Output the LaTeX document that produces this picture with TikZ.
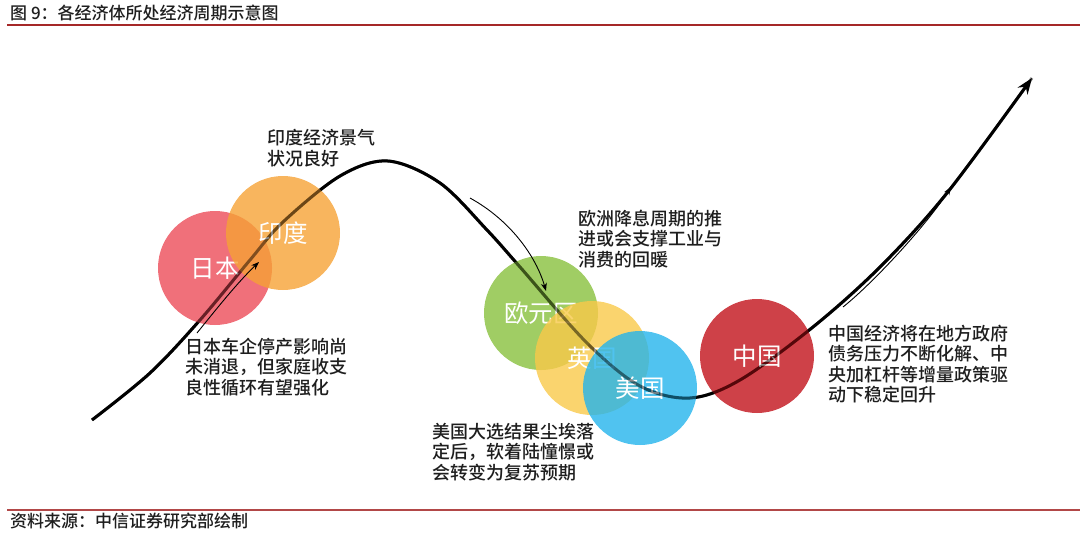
\documentclass[tikz,border=0pt]{standalone}
\usepackage{fontspec}
\setmainfont{Noto Sans CJK SC}[UprightFont={* Medium}]
\newfontfamily\labelfont{Noto Sans CJK SC}
\usetikzlibrary{arrows.meta}
\definecolor{jpc}{RGB}{236,76,89}
\definecolor{inc}{RGB}{246,162,54}
\definecolor{ezc}{RGB}{136,192,61}
\definecolor{ukc}{RGB}{249,201,74}
\definecolor{usc}{RGB}{36,180,236}
\definecolor{cnc}{RGB}{194,18,26}
\definecolor{rule}{RGB}{165,40,40}
\definecolor{txt}{RGB}{30,30,30}
\tikzset{
  ball/.style={circle, minimum size=114pt, inner sep=0pt, fill opacity=0.8, text opacity=1, text=white, font=\labelfont\fontsize{24.5}{24.5}\selectfont},
  note/.style={anchor=west, align=left, inner sep=0pt, text=txt, font=\fontsize{18}{20.5}\selectfont},
  hint/.style={line width=0.9pt, -{Stealth[length=8pt,width=6pt]}},
  main/.style={line width=3pt},
}
\begin{document}
\begin{tikzpicture}[x=1pt,y=-1pt]
\useasboundingbox (0,0) rectangle (1080,536);
% header / footer
\node[anchor=west, inner sep=0pt, text=txt, font=\fontsize{17}{17}\selectfont] (title) at (10,13) {图 9：各经济体所处经济周期示意图};
\coordinate (hl) at (7,24.5); \coordinate (hr) at (1080,24.5);
\draw[rule, line width=2pt] (hl) -- (hr);
\coordinate (fl) at (7,510); \coordinate (fr) at (1080,510);
\draw[rule!85, line width=1.3pt] (fl) -- (fr);
\node[anchor=west, inner sep=0pt, text=txt, font=\fontsize{17}{17}\selectfont] (src) at (10,521) {资料来源：中信证券研究部绘制};
% main cycle curve
\def\cyclepath{plot[smooth, tension=0.55] coordinates {(92,420) (150,373) (200,320) (250,260) (283,222) (340,176) (388,161) (440,183) (487,230) (520,267) (587,343) (640,386) (690,398) (740,380) (813,327) (880,267) (947,193) (1032,78)}}
\draw[main, -{Stealth[length=16pt,width=12pt]}] \cyclepath;
% circles
\node[ball, fill=jpc] (jp) at (215,268) {日本};
\node[ball, fill=inc] (in) at (283,233) {印度};
\node[ball, fill=ezc] (ez) at (541,313) {欧元区};
\node[ball, fill=ukc] (uk) at (592,358) {英国};
\node[ball, fill=usc] (us) at (640,388) {美国};
\node[ball, fill=cnc] (cn) at (757,356) {中国};
% curve visible through circles
\draw[main, draw opacity=0.45] \cyclepath;
% notes
\node[note] (n1) at (267,148) {印度经济景气\\状况良好};
\node[note] (n2) at (185,367) {日本车企停产影响尚\\未消退，但家庭收支\\良性循环有望强化};
\node[note] (n3) at (578,239) {欧洲降息周期的推\\进或会支撑工业与\\消费的回暖};
\node[note] (n4) at (432,452) {美国大选结果尘埃落\\定后，软着陆憧憬或\\会转变为复苏预期};
\node[note] (n5) at (828,364) {中国经济将在地方政府\\债务压力不断化解、中\\央加杠杆等增量政策驱\\动下稳定回升};
% hint arrows
\coordinate (a1s) at (197,333); \coordinate (a1e) at (259,262);
\draw[hint] (a1s) .. controls (218,307) and (238,282) .. (a1e);
\coordinate (a2s) at (470,198); \coordinate (a2e) at (546,291);
\draw[hint] (a2s) .. controls (510,220) and (536,256) .. (a2e);
\coordinate (a3s) at (843,307); \coordinate (a3e) at (951,187);
\draw[hint] (a3s) .. controls (872,284) and (926,226) .. (a3e);
\end{tikzpicture}
\end{document}
